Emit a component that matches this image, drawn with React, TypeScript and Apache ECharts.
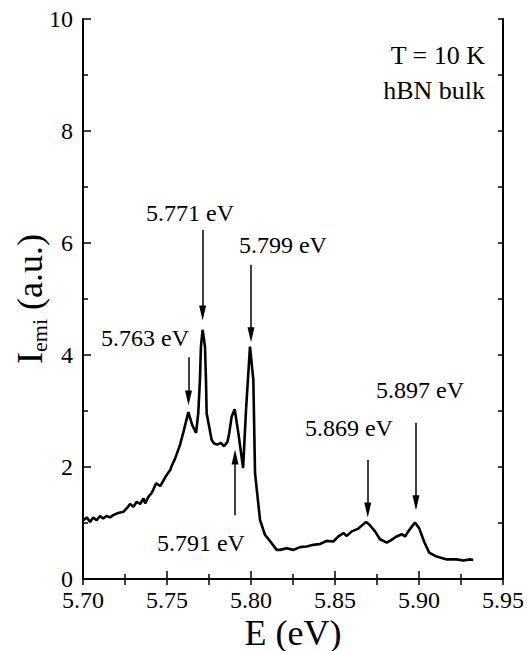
import React, { useEffect, useRef } from "react";
import * as echarts from "echarts";

const energy = [
  5.7002, 5.7022, 5.7042, 5.7061, 5.7081, 5.7101, 5.712, 5.714, 5.716, 5.718,
  5.721, 5.724, 5.726, 5.728, 5.730, 5.732, 5.734, 5.736, 5.737, 5.739,
  5.741, 5.7435, 5.746, 5.749, 5.752, 5.7525, 5.7548, 5.7577, 5.760, 5.7627,
  5.765, 5.7673, 5.7686, 5.7696, 5.7702, 5.7712, 5.7726, 5.7732, 5.7736, 5.7766,
  5.778, 5.780, 5.782, 5.784, 5.786, 5.787, 5.7885, 5.7903, 5.7925, 5.7953,
  5.797, 5.7994, 5.8014, 5.8024, 5.8054, 5.8083, 5.8123, 5.8153, 5.8173, 5.8212,
  5.8252, 5.8292, 5.8331, 5.8371, 5.8411, 5.845, 5.849, 5.852, 5.855, 5.857,
  5.860, 5.8639, 5.8685, 5.8708, 5.8738, 5.8768, 5.8808, 5.8837, 5.8867, 5.8897,
  5.8917, 5.8936, 5.8976, 5.9002, 5.903, 5.9061, 5.9105, 5.9165, 5.9224, 5.9264,
  5.9304, 5.9323,
];

const intensity = [
  1.05, 1.1, 1.02, 1.1, 1.05, 1.125, 1.08, 1.125, 1.1, 1.14,
  1.18, 1.2, 1.26, 1.34, 1.29, 1.38, 1.34, 1.44, 1.35, 1.47,
  1.54, 1.71, 1.66, 1.82, 1.95, 2.0, 2.15, 2.39, 2.65, 2.98,
  2.75, 2.61, 2.96, 3.55, 4.15, 4.45, 4.15, 3.55, 2.96, 2.48,
  2.42, 2.4, 2.43, 2.37, 2.45, 2.6, 2.9, 3.03, 2.6, 1.98,
  3.0, 4.15, 3.55, 1.89, 1.05, 0.79, 0.64, 0.52, 0.52, 0.55,
  0.52, 0.57, 0.58, 0.61, 0.625, 0.68, 0.67, 0.76, 0.82, 0.77,
  0.85, 0.9, 1.02, 0.96, 0.85, 0.71, 0.65, 0.7, 0.76, 0.8,
  0.76, 0.85, 1.01, 0.9, 0.67, 0.47, 0.4, 0.35, 0.35, 0.33,
  0.35, 0.34,
];

const xTickLabels = ["5.70", "5.75", "5.80", "5.85", "5.90", "5.95"];
const yTickLabels = ["0", "2", "4", "6", "8", "10"];

const peakLabels = ["5.763 eV", "5.771 eV", "5.799 eV", "5.791 eV", "5.869 eV", "5.897 eV"];
const arrowE = [5.7628, 5.7712, 5.8, 5.7905, 5.8695, 5.8982];
const arrowFrom = [3.96, 6.23, 5.61, 1.14, 2.125, 2.79];
const arrowTo = [3.23, 4.75, 4.36, 2.18, 1.23, 1.36];
const labelE = [5.7369, 5.7637, 5.819, 5.7702, 5.8583, 5.9006];
const labelI = [4.3, 6.54, 5.96, 0.64, 2.7, 3.375];

const infoLines = ["T = 10 K", "hBN bulk"];

const FONT = "Liberation Serif, DejaVu Serif, serif";

export default function App() {
  const ref = useRef<HTMLDivElement>(null);

  useEffect(() => {
    document.body.style.margin = "0";
    if (!ref.current) return;
    const chart = echarts.init(ref.current, undefined, { renderer: "svg" });
    const seriesData = energy.map((e, i) => [e, intensity[i]]);

    const xLabelMap: Record<string, string> = {};
    xTickLabels.forEach((t) => (xLabelMap[parseFloat(t).toFixed(2)] = t));
    const yLabelMap: Record<string, string> = {};
    yTickLabels.forEach((t) => (yLabelMap[String(parseFloat(t))] = t));

    const axisLine = { show: true, lineStyle: { color: "#000", width: 2 } };
    const tickStyle = { color: "#000", width: 1.5 };
    const txt = { color: "#000", fontFamily: FONT, fontWeight: "normal" as const };

    chart.setOption({
      animation: false,
      backgroundColor: "#fff",
      textStyle: { fontFamily: FONT },
      grid: { left: 83, right: 24, top: 19, bottom: 72, containLabel: false, outerBoundsMode: "none" },
      xAxis: [
        {
          type: "value",
          min: 5.7,
          max: 5.95,
          interval: 0.05,
          position: "bottom",
          axisLine,
          axisTick: { show: true, inside: true, length: 8, lineStyle: tickStyle },
          minorTick: { show: true, splitNumber: 2, length: 5, lineStyle: tickStyle },
          splitLine: { show: false },
          axisLabel: {
            ...txt,
            fontSize: 24,
            margin: 9,
            hideOverlap: false,
            formatter: (v: number) => xLabelMap[v.toFixed(2)] ?? v.toFixed(2),
          },
          name: "E (eV)",
          nameLocation: "middle",
          nameGap: 36,
          nameMoveOverlap: false,
          nameTextStyle: { ...txt, fontSize: 36 },
        },
        {
          type: "value",
          min: 5.7,
          max: 5.95,
          interval: 0.025,
          position: "top",
          axisLine,
          axisTick: { show: true, inside: true, length: 6, lineStyle: tickStyle },
          axisLabel: { show: false },
          splitLine: { show: false },
        },
      ],
      yAxis: [
        {
          type: "value",
          min: 0,
          max: 10,
          interval: 2,
          position: "left",
          axisLine,
          axisTick: { show: true, inside: true, length: 8, lineStyle: tickStyle },
          minorTick: { show: true, splitNumber: 2, length: 5, lineStyle: tickStyle },
          splitLine: { show: false },
          axisLabel: {
            ...txt,
            fontSize: 24,
            margin: 10,
            formatter: (v: number) => yLabelMap[String(v)] ?? String(v),
          },
          name: "{m|I}{s|emi}{m| (a.u.)}",
          nameLocation: "middle",
          nameGap: 33,
          nameRotate: 90,
          nameMoveOverlap: false,
          nameTextStyle: {
            ...txt,
            rich: {
              m: { ...txt, fontSize: 36, lineHeight: 40 },
              s: { ...txt, fontSize: 22, lineHeight: 18, verticalAlign: "bottom" },
            },
          },
        },
        {
          type: "value",
          min: 0,
          max: 10,
          interval: 1,
          position: "right",
          axisLine,
          axisTick: { show: true, inside: true, length: 5, lineStyle: tickStyle },
          axisLabel: { show: false },
          splitLine: { show: false },
        },
      ],
      graphic: infoLines.map((t, i) => ({
        type: "text",
        x: 485,
        y: 55 + i * 35,
        style: {
          text: t,
          fill: "#000",
          font: `26px ${FONT}`,
          textAlign: "right",
          textVerticalAlign: "middle",
        },
      })),
      series: [
        {
          type: "line",
          data: seriesData,
          xAxisIndex: 0,
          yAxisIndex: 0,
          showSymbol: false,
          smooth: false,
          lineStyle: { color: "#000", width: 2.6 },
          itemStyle: { color: "#000" },
          markLine: {
            silent: true,
            symbol: ["none", "triangle"],
            symbolSize: 12,
            label: { show: false },
            lineStyle: { color: "#000", width: 1.5, type: "solid" },
            data: arrowE.map((e, i) => [
              { coord: [e, arrowFrom[i]] },
              { coord: [e, arrowTo[i]], symbolSize: [7, 15] },
            ]),
          },
          markPoint: {
            silent: true,
            symbol: "circle",
            symbolSize: 0,
            label: {
              show: true,
              position: "inside",
              ...txt,
              fontSize: 24,
              formatter: "{b}",
            },
            data: peakLabels.map((t, i) => ({ name: t, coord: [labelE[i], labelI[i]] })),
          },
        },
      ],
    });

    return () => chart.dispose();
  }, []);

  return <div ref={ref} style={{ width: 527, height: 651 }} />;
}
